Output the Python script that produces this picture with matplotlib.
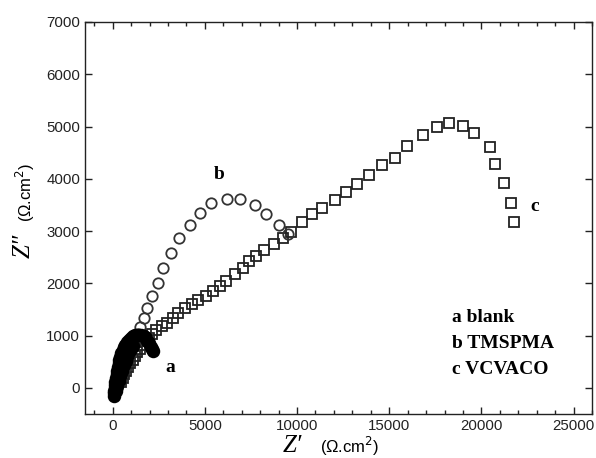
import matplotlib.pyplot as plt
from matplotlib.ticker import MultipleLocator

# Nyquist data, Z' and Z'' in ohm.cm2
a_zre = [80, 90, 100, 110, 130, 150, 180, 210, 240, 280, 320, 370, 420, 480, 540,
         610, 690, 780, 870, 970, 1080, 1200, 1320, 1440, 1560, 1680, 1790, 1890,
         1980, 2060, 2130, 2180,
         200, 260, 330, 410, 500, 600, 700, 800, 900, 1000, 1100]
a_zim = [-150, -100, -50, 0, 60, 120, 190, 260, 330, 400, 470, 540, 600, 660, 720,
         780, 830, 880, 920, 960, 990, 1010, 1020, 1020, 1010, 990, 950, 900,
         850, 790, 740, 700,
         -60, 40, 130, 230, 330, 430, 520, 600, 680, 740, 800]

b_zre = [250, 400, 600, 800, 1000, 1200, 1350, 1505, 1683, 1866, 2134, 2435, 2758,
         3156, 3602, 4170, 4731, 5360, 6183, 6882, 7742, 8317, 9032, 9532]
b_zim = [0, 150, 350, 550, 750, 900, 1030, 1161, 1328, 1532, 1756, 2012, 2300,
         2576, 2864, 3119, 3349, 3528, 3618, 3618, 3503, 3330, 3119, 2940]

c_zre = [450, 540, 640, 740, 850, 960, 1080, 1200, 1330, 1470, 1620, 1780, 1950,
         2150, 2366, 2672, 2973, 3263, 3565, 3925, 4285, 4640, 5054, 5446, 5806,
         6167, 6613, 7059, 7419, 7780, 8226, 8726, 9247, 9700, 10253, 10806, 11344,
         12043, 12634, 13280, 13925, 14624, 15323, 15968, 16828, 17581, 18226,
         18978, 19624, 20484, 20753, 21237, 21613, 21774]
c_zim = [120, 190, 260, 330, 400, 470, 540, 610, 680, 750, 820, 890, 960,
         1040, 1110, 1180, 1244, 1340, 1436, 1520, 1597, 1679, 1756, 1852, 1948,
         2044, 2173, 2300, 2428, 2524, 2633, 2760, 2875, 2990, 3177, 3330, 3445,
         3599, 3752, 3906, 4079, 4271, 4405, 4635, 4846, 5000, 5058,
         5019, 4885, 4616, 4290, 3925, 3541, 3177]

curve_tags = ['a', 'b', 'c']
curve_names = ['blank', 'TMSPMA', 'VCVACO']

serif = ['Liberation Serif', 'DejaVu Serif']
sans = ['Liberation Sans', 'DejaVu Sans']

fig = plt.figure(figsize=(5.96, 4.58), dpi=100)
ax = fig.add_axes([0.1426, 0.096, 0.8507, 0.856])

ax.plot(c_zre, c_zim, ls='none', marker='s', ms=7.8, mfc='none', mec='#222222', mew=1.3)
ax.plot(b_zre, b_zim, ls='none', marker='o', ms=7.5, mfc='none', mec='#333333', mew=1.3)
ax.plot(a_zre, a_zim, ls='none', marker='o', ms=8.5, mfc='black', mec='black', mew=1.2)

ax.set_xlim(-1500, 26000)
ax.set_ylim(-500, 7000)
ax.xaxis.set_major_locator(MultipleLocator(5000))
ax.xaxis.set_minor_locator(MultipleLocator(1000))
ax.yaxis.set_major_locator(MultipleLocator(1000))
ax.tick_params(which='both', direction='in', top=True, right=True, colors='#222222',
               labelsize=10.8, width=1.0)
ax.tick_params(which='major', length=5)
ax.tick_params(which='minor', length=3)
for lbl in ax.get_xticklabels() + ax.get_yticklabels():
    lbl.set_family(sans)
for sp in ax.spines.values():
    sp.set_linewidth(1.0)
    sp.set_color('#222222')

# curve tags next to each curve
ax.text(3138, 383, curve_tags[0], family=serif, weight='bold', fontsize=14, ha='center', va='center')
ax.text(5781, 4075, curve_tags[1], family=serif, weight='bold', fontsize=14, ha='center', va='center')
ax.text(22880, 3463, curve_tags[2], family=serif, weight='bold', fontsize=14, ha='center', va='center')

# key in the lower right
for i, (t, n) in enumerate(zip(curve_tags, curve_names)):
    fig.text(452 / 596, 1 - (317 + 26.5 * i) / 458, f'{t} {n}', family=serif,
             weight='bold', fontsize=14, ha='left', va='center')

# axis titles
fig.text(302 / 596, 1 - 446 / 458, 'Z\u2032', family=serif, style='italic', fontsize=18,
         ha='right', va='center')
fig.text(320 / 596, 1 - 446 / 458, '(\u03a9.cm$^2$)', family=sans, fontsize=12,
         ha='left', va='center')
fig.text(24 / 596, 1 - 246 / 458, 'Z\u2033', family=serif, style='italic', fontsize=18,
         rotation=90, ha='center', va='center')
fig.text(25 / 596, 1 - 192 / 458, '(\u03a9.cm$^2$)', family=sans, fontsize=12,
         rotation=90, ha='center', va='center')

fig.savefig('out.png', dpi=100)
